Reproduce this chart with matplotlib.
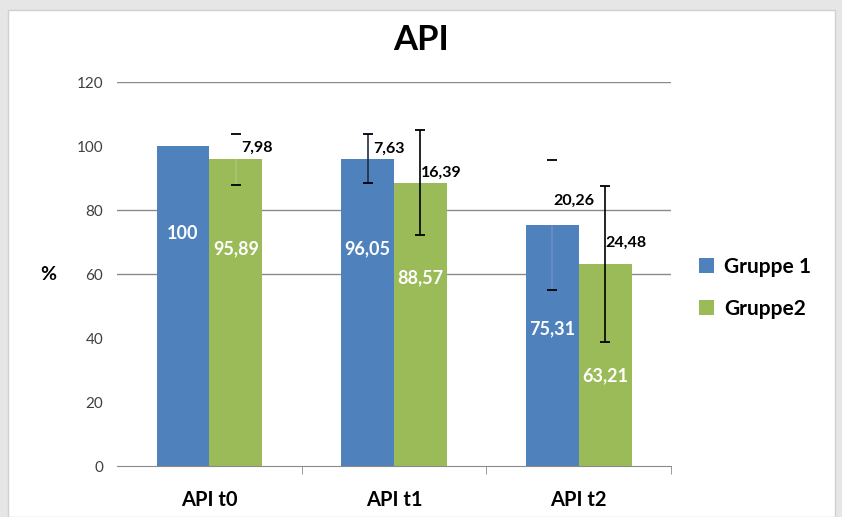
import matplotlib
matplotlib.use('Agg')
import matplotlib.pyplot as plt
import numpy as np
from matplotlib.patches import Rectangle

plt.rcParams['font.family'] = ['Lato', 'DejaVu Sans']

# data
categories = ['API t0', 'API t1', 'API t2']
series_names = ['Gruppe 1', 'Gruppe2']
gruppe1 = [100, 96.05, 75.31]
gruppe2 = [95.89, 88.57, 63.21]
sd1 = [None, 7.63, 20.26]
sd2 = [7.98, 16.39, 24.48]
grid_levels = [60, 80, 120]

blue = '#4F81BD'
green = '#9BBB59'

fig = plt.figure(figsize=(8.42, 5.17), dpi=100)
fig.patch.set_facecolor('#e6e6e6')
# white chart panel on the grey page
fig.patches.append(Rectangle((0.010, 0.0), 0.982, 0.981, transform=fig.transFigure,
                             facecolor='white', edgecolor='#d0d0d0', lw=1, zorder=-10))

ax = fig.add_axes([0.139, 0.0986, 0.658, 0.7425])
ax.set_facecolor('none')

x = np.arange(len(categories))
w = 1 / 3.5  # excel gap width 150%

b1 = ax.bar(x - w / 2, gruppe1, w, color=blue, label=series_names[0], zorder=2)
b2 = ax.bar(x + w / 2, gruppe2, w, color=green, label=series_names[1], zorder=2)

for lv in grid_levels:
    ax.axhline(lv, color='#8a8a8a', lw=1, zorder=1)

# error bars: line colour per bar, faint ones only show inside the bar (clipped)
line_cols1 = [None, '#1f2d4a', '#6a8fc4']
line_cols2 = ['#a9c472', 'black', 'black']
faint1 = [False, False, True]
faint2 = [True, False, False]
cw = 0.027
for i in range(3):
    if sd1[i] is not None:
        xi = x[i] - w / 2
        ln = ax.vlines(xi, gruppe1[i] - sd1[i], gruppe1[i] + sd1[i], color=line_cols1[i], lw=1.2, zorder=3)
        if faint1[i]:
            ln.set_clip_path(b1[i])
        ax.hlines([gruppe1[i] - sd1[i], gruppe1[i] + sd1[i]], xi - cw, xi + cw, color='black', lw=1.3, zorder=4)
    xi = x[i] + w / 2
    ln = ax.vlines(xi, gruppe2[i] - sd2[i], gruppe2[i] + sd2[i], color=line_cols2[i], lw=1.2, zorder=3)
    if faint2[i]:
        ln.set_clip_path(b2[i])
    ax.hlines([gruppe2[i] - sd2[i], gruppe2[i] + sd2[i]], xi - cw, xi + cw, color='black', lw=1.3, zorder=4)

def fmt(v):
    if v == int(v):
        return str(int(v))
    return ('%.2f' % v).replace('.', ',')

# value labels inside bars
for xs, vals in ((x - w / 2, gruppe1), (x + w / 2, gruppe2)):
    for xi, v in zip(xs, vals):
        ax.text(xi, 1.215 * v - 48.7, fmt(v), ha='center', va='center', color='white',
                fontsize=13, fontweight='bold', zorder=5)

# sd labels
sd_dy = {(0, 1): 3.5, (1, 0): 3, (1, 1): 3, (2, 0): 7.5, (2, 1): 6.5}
for i in range(3):
    for j, (vals, sds) in enumerate(((gruppe1, sd1), (gruppe2, sd2))):
        if sds[i] is None:
            continue
        xi = x[i] + (j - 0.5) * w + 0.115
        ax.text(xi, vals[i] + sd_dy[(i, j)], fmt(sds[i]),
                ha='center', va='center', fontsize=11.5, fontweight='bold', color='black', zorder=5)

ax.set_xlim(-0.5, 2.5)
ax.set_ylim(0, 120)
ax.set_yticks(range(0, 121, 20))
ax.tick_params(axis='y', length=0, labelsize=11, colors='#404040', pad=10)
ax.set_xticks(x)
ax.set_xticklabels(categories, fontsize=14.5, fontweight='bold')
ax.tick_params(axis='x', length=0, pad=17)
ax.set_xticks([0.5, 1.5, 2.5], minor=True)
ax.tick_params(axis='x', which='minor', length=6, color='#8a8a8a')
for s in ('top', 'right', 'left'):
    ax.spines[s].set_visible(False)
ax.spines['bottom'].set_color('#8a8a8a')

ax.set_ylabel('%', fontsize=14, fontweight='bold', rotation=0, labelpad=20, va='center')
fig.text(0.5, 0.922, 'API', ha='center', va='center', fontsize=25, fontweight='bold')

leg = fig.legend(handles=[b1, b2], loc='center left', bbox_to_anchor=(0.808, 0.443),
                 frameon=False, handlelength=0.7, handleheight=0.7, handletextpad=0.5,
                 labelspacing=1.05, prop={'size': 15, 'weight': 'bold'})

fig.savefig('out.png', dpi=100, facecolor=fig.get_facecolor())
